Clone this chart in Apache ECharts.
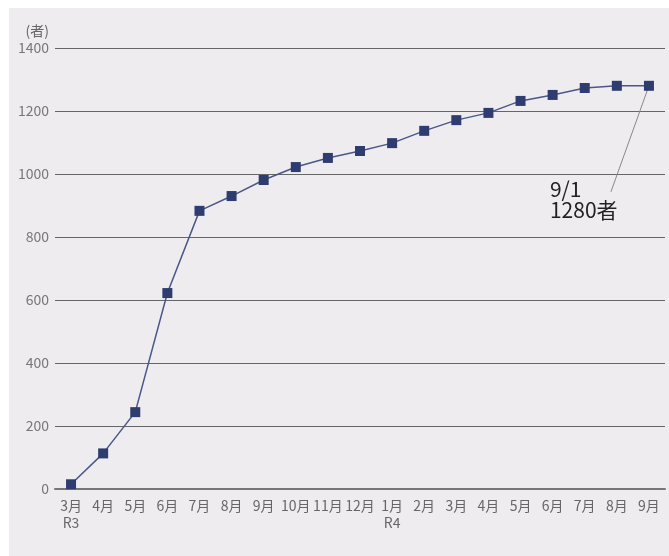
<!DOCTYPE html>
<html>
<head>
<meta charset="utf-8">
<script src="https://cdn.jsdelivr.net/npm/echarts@6/dist/echarts.min.js"></script>
<style>
  html, body { margin: 0; padding: 0; background: #ffffff; }
  #wrap { position: relative; width: 669px; height: 556px; }
  #bg { position: absolute; left: 9px; top: 8px; right: 0; bottom: 0; background: #eeecef; }
  #chart { position: absolute; left: 0; top: 0; width: 669px; height: 556px; }
</style>
</head>
<body>
<div id="wrap">
  <div id="bg"></div>
  <div id="chart"></div>
</div>
<script>
const months = ['3月', '4月', '5月', '6月', '7月', '8月', '9月', '10月', '11月', '12月',
  '1月', '2月', '3月', '4月', '5月', '6月', '7月', '8月', '9月'];
const eraLabels = ['R3', '', '', '', '', '', '', '', '', '', 'R4', '', '', '', '', '', '', '', ''];
const counts = [15, 113, 244, 622, 883, 930, 981, 1022, 1051, 1073,
  1098, 1137, 1171, 1194, 1232, 1251, 1273, 1280, 1280];
const yTicks = { min: 0, max: 1400, interval: 200 };
const unitLabel = '(者)';
const noteText = '9/1\n1280者';

(function () {
  const chart = echarts.init(document.getElementById('chart'));
  const font = '"Noto Sans CJK JP", "Noto Sans", sans-serif';
  const categories = months.map((m, i) => eraLabels[i] ? m + '\n' + eraLabels[i] : m);
  const last = counts.length - 1;

  chart.setOption({
    animation: false,
    grid: { left: 55, right: 4, top: 48, bottom: 67 },
    xAxis: {
      type: 'category',
      data: categories,
      boundaryGap: true,
      axisLine: { lineStyle: { color: '#777', width: 2 } },
      axisTick: { inside: true, length: 10, lineStyle: { color: '#999', width: 1 } },
      axisLabel: { color: '#666', fontSize: 14, fontFamily: font, margin: 8, lineHeight: 17, interval: 0 }
    },
    yAxis: {
      type: 'value',
      min: yTicks.min,
      max: yTicks.max,
      interval: yTicks.interval,
      name: unitLabel,
      nameLocation: 'end',
      nameGap: 10,
      nameTextStyle: { color: '#666', fontSize: 14, fontFamily: font, align: 'right', padding: [0, 6, 0, 0] },
      axisLine: { show: false },
      axisTick: { show: false },
      axisLabel: { color: '#777', fontSize: 14, fontFamily: font, margin: 6, formatter: (v) => String(v) },
      splitLine: { lineStyle: { color: '#666', width: 1 } }
    },
    series: [
      {
        type: 'line',
        data: counts,
        symbol: 'rect',
        symbolSize: 10,
        itemStyle: { color: '#2e3c70' },
        lineStyle: { color: '#4a5788', width: 1.5 },
        z: 3
      }
    ]
  });

  // callout for the latest value, anchored to the last point
  const p = chart.convertToPixel({ seriesIndex: 0 }, [last, counts[last]]);
  chart.setOption({
    graphic: [
      {
        type: 'line',
        z: 1,
        shape: { x1: p[0], y1: p[1], x2: p[0] - 38, y2: p[1] + 106 },
        style: { stroke: '#888', lineWidth: 1 }
      },
      {
        type: 'text',
        left: p[0] - 99,
        top: p[1] + 93,
        style: {
          text: noteText,
          fill: '#222',
          fontSize: 21,
          lineHeight: 21,
          fontFamily: font
        }
      }
    ]
  });
})();
</script>
</body>
</html>
